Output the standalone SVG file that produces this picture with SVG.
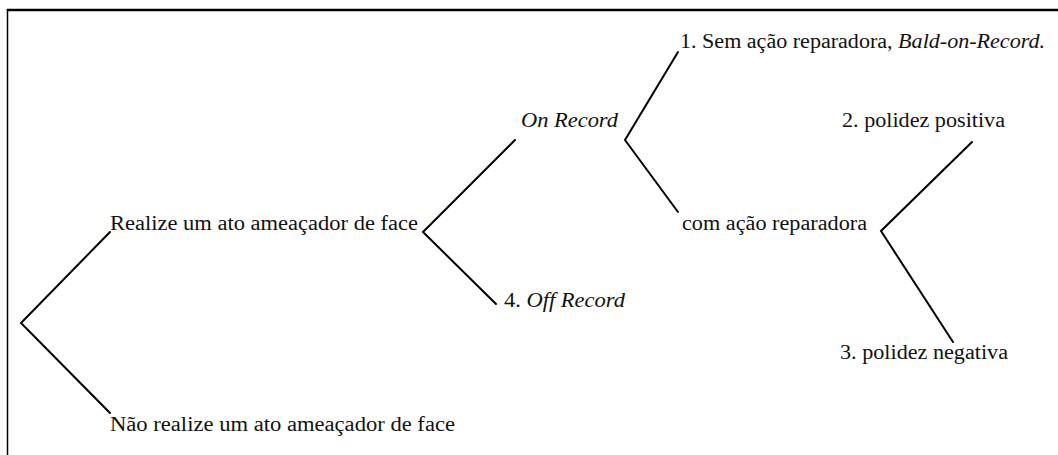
<svg xmlns="http://www.w3.org/2000/svg" width="1058" height="455" viewBox="0 0 1058 455">
<style>
.t text{font-size:20px;fill:#111}
.i{font-style:italic}
.c{stroke:#000;stroke-width:2;fill:none;stroke-linecap:round;stroke-linejoin:miter}
.b{stroke:#000;fill:none}
</style>
<rect width="1058" height="455" fill="#fff"/>
<g id="frame">
<line class="b" x1="6.8" y1="10" x2="1058" y2="10" stroke-width="2.5"/>
<line class="b" x1="7.5" y1="9" x2="7.5" y2="455" stroke-width="1.5"/>
</g>
<g id="connectors">
<polyline class="c" points="110,232 21,323 110,413"/>
<polyline class="c" points="515,140 423,232 496,304"/>
<polyline class="c" points="678,52 625,140 678,212"/>
<polyline class="c" points="972,142 881,231 953,342"/>
</g>
<g class="t" font-family="Liberation Serif, DejaVu Serif, Times New Roman, serif">
<g id="n-realize"><text x="110" y="230" textLength="308" lengthAdjust="spacingAndGlyphs">Realize um ato ameaçador de face</text></g>
<g id="n-nao"><text x="110" y="431" textLength="345" lengthAdjust="spacingAndGlyphs">Não realize um ato ameaçador de face</text></g>
<g id="n-onrecord"><text class="i" x="521" y="127" textLength="97" lengthAdjust="spacingAndGlyphs">On Record</text></g>
<g id="n-offrecord"><text x="504" y="307" textLength="121" lengthAdjust="spacingAndGlyphs">4. <tspan class="i">Off Record</tspan></text></g>
<g id="n-sem"><text x="680" y="48" textLength="365" lengthAdjust="spacingAndGlyphs">1. Sem ação reparadora, <tspan class="i">Bald-on-Record.</tspan></text></g>
<g id="n-com"><text x="682" y="230" textLength="185" lengthAdjust="spacingAndGlyphs">com ação reparadora</text></g>
<g id="n-positiva"><text x="842" y="127" textLength="163" lengthAdjust="spacingAndGlyphs">2. polidez positiva</text></g>
<g id="n-negativa"><text x="840" y="359" textLength="168" lengthAdjust="spacingAndGlyphs">3. polidez negativa</text></g>
</g>
</svg>
